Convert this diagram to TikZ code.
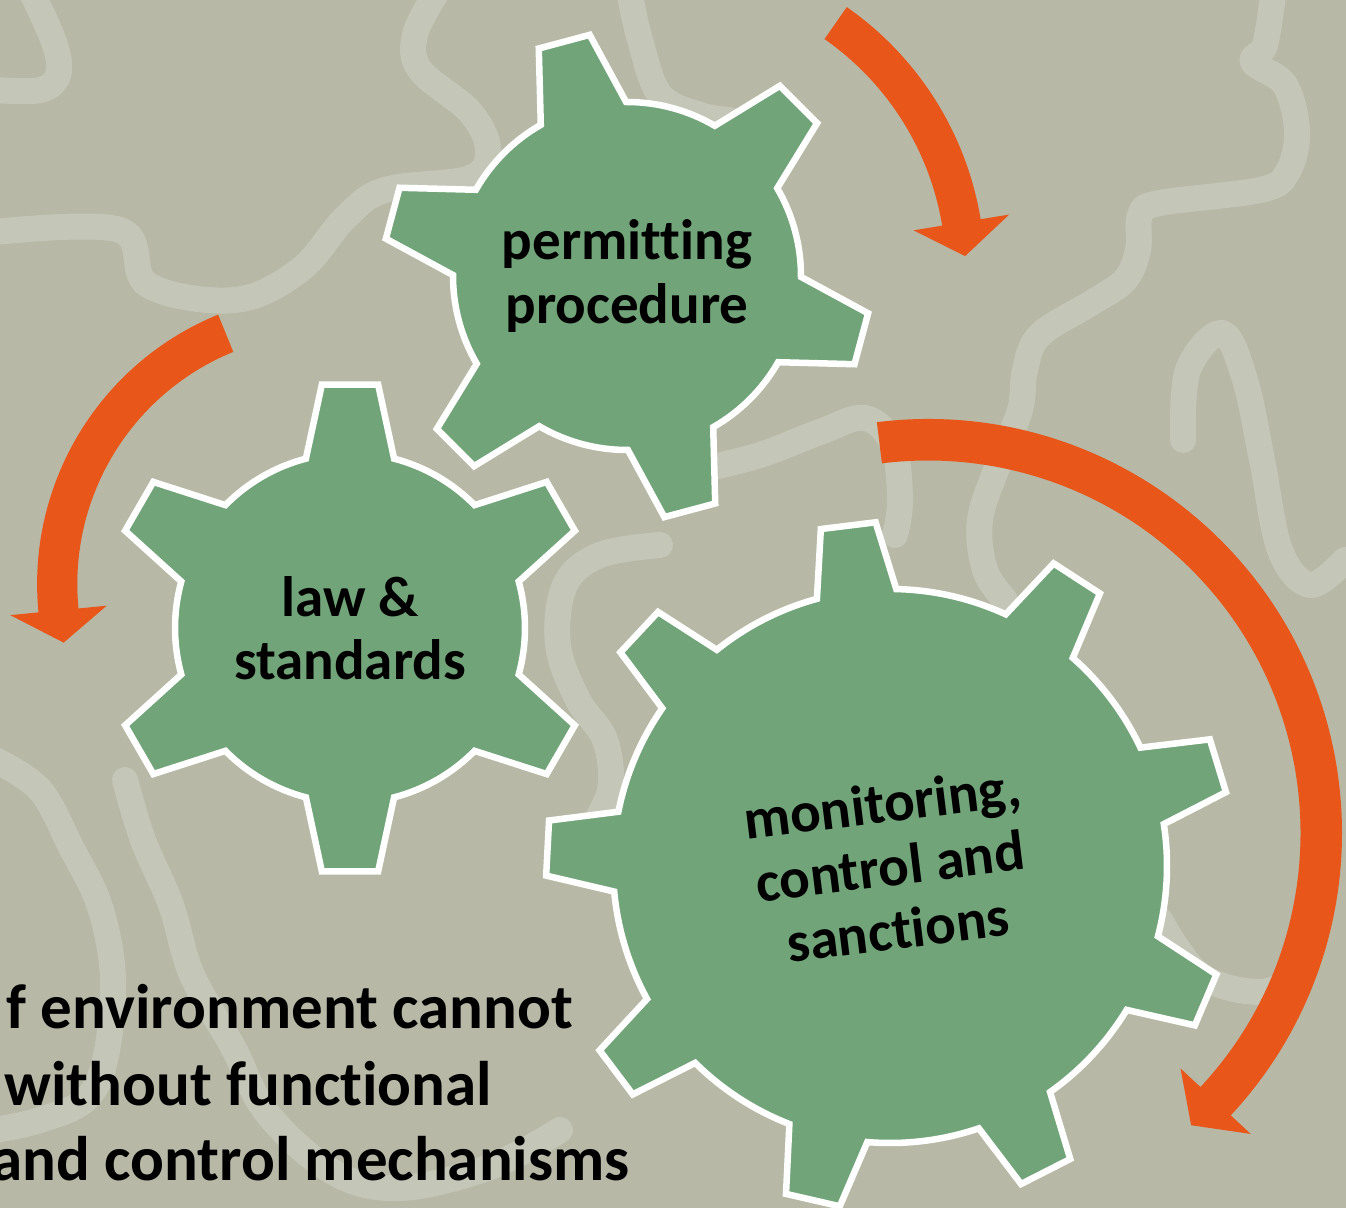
\documentclass[tikz,border=0pt]{standalone}
\usepackage{fontspec}
\setmainfont{Carlito}[Ligatures={NoCommon}]
\definecolor{bgc}{RGB}{183,184,166}
\definecolor{sqc}{RGB}{196,198,183}
\definecolor{gearc}{RGB}{113,164,121}
\definecolor{arrc}{RGB}{232,86,26}
% gear: cx, cy, teeth, phase, Router, Rbase, tip half angle, base half angle
\newcommand{\mygear}[8]{%
  \begin{scope}[shift={(#1,#2)}]
    \pgfmathsetmacro{\gstep}{360/#3}
    \pgfmathtruncatemacro{\gnm}{#3-1}
    \draw[gearshape] ({#4-#8}:#6pt) \foreach \k in {0,...,\gnm} {
      -- ({#4+\k*\gstep-#7}:#5pt) -- ({#4+\k*\gstep+#7}:#5pt) -- ({#4+\k*\gstep+#8}:#6pt)
      arc[start angle={#4+\k*\gstep+#8}, delta angle={\gstep-2*#8}, radius=#6pt]} -- cycle;
  \end{scope}}
% arc arrow: cx, cy, Rin, Rout, start angle, shaft end angle, tip angle, head half width
\newcommand{\myarcarrow}[8]{%
  \begin{scope}[shift={(#1,#2)}]
    \pgfmathsetmacro{\rmid}{(#3+#4)/2}
    \pgfmathsetmacro{\hout}{\rmid+#8}
    \pgfmathsetmacro{\hin}{\rmid-#8}
    \fill[arrowshape] (#5:#4pt) arc[start angle=#5, end angle=#6, radius=#4pt]
      -- (#6:\hout pt) -- (#7:\rmid pt) -- (#6:\hin pt) -- (#6:#3pt)
      arc[start angle=#6, end angle=#5, radius=#3pt] -- cycle;
  \end{scope}}
\begin{document}
\begin{tikzpicture}[x=1pt,y=1pt,
  gearshape/.style={fill=gearc, draw=white, line width=6.5pt, line join=miter},
  arrowshape/.style={fill=arrc},
  squig/.style={draw=sqc, line width=26pt, line cap=round, line join=round},
  geartext/.style={font=\bfseries\fontsize{57}{63.5}\selectfont, align=center, text=black, inner sep=0pt},
  bodytext/.style={font=\bfseries\fontsize{63}{76}\selectfont, anchor=base east, inner sep=0pt, text=black}]
\useasboundingbox (0,0) rectangle (1346,1208);
\clip (0,0) rectangle (1346,1208);
\fill[bgc] (0,0) rectangle (1346,1208);
% background squiggles
\draw[squig] plot[smooth, tension=0.6] coordinates {(-5,1118) (40,1118) (58,1133) (55,1163) (33,1213)};
\draw[squig] plot[smooth, tension=0.6] coordinates {(-5,976) (120,978) (148,923) (235,908) (300,938) (345,990) (385,1018) (470,1030) (488,1058) (470,1096) (420,1138) (415,1173) (435,1213)};
\draw[squig] plot[smooth, tension=0.6] coordinates {(630,1213) (640,1168) (660,1113) (700,1093) (730,1088)};
\draw[squig] plot[smooth, tension=0.6] coordinates {(1273,1213) (1265,1163) (1253,1146) (1285,1123) (1297,1075) (1287,1035) (1260,1018) (1160,1005) (1140,993) (1138,958) (1125,928) (1093,906) (1040,873) (1025,838) (1020,798) (998,743) (980,688) (985,638) (1005,608)};
\draw[squig] plot[smooth, tension=0.6] coordinates {(1183,768) (1188,838) (1222,875) (1245,828) (1262,748) (1280,658) (1310,623) (1345,648)};
\draw[squig] plot[smooth, tension=0.6] coordinates {(-5,448) (40,418) (71,361) (100,301) (113,228) (105,148) (85,108) (40,88) (-5,78)};
\draw[squig] plot[smooth, tension=0.6] coordinates {(125,428) (143,368) (171,303) (192,233) (233,161) (267,95) (333,36) (400,20) (490,41) (560,78)};
\draw[squig] plot[smooth, tension=0.6] coordinates {(660,663) (600,653) (565,623) (558,563) (578,508) (605,468) (610,418) (590,378)};
\draw[squig] plot[smooth, tension=0.6] coordinates {(700,738) (760,753) (820,776) (865,790) (893,763) (900,708) (895,673)};
\draw[squig] plot[smooth, tension=0.6] coordinates {(1160,288) (1200,233) (1260,216) (1300,233)};
% gears
\mygear{627}{932}{6}{105}{244}{174}{6.2}{14.7}
\mygear{350}{580}{6}{90}{245}{175}{6.6}{14.6}
\mygear{890}{342}{9}{97}{344}{277}{4.6}{8.3}
% arrows
\myarcarrow{662}{936}{284}{323}{55.1}{9.4}{3.0}{48.5}
\myarcarrow{328}{624}{250.7}{290.9}{112.2}{185.6}{192.5}{48.5}
\myarcarrow{928}{375}{372.5}{414}{97.1}{-43}{-48}{48}
% texts
\node[geartext] (permit) at (627,932) {permitting\\procedure};
\node[geartext] (law) at (350,580) {law \&\\standards};
\node[geartext, rotate=7] (monit) at (890,342) {monitoring,\\control and\\sanctions};
\node[bodytext] (line1) at (573,180) {f environment cannot};
\node[bodytext] (line2) at (492,103) {without functional};
\node[bodytext] (line3) at (630,28) {and control mechanisms};
\end{tikzpicture}
\end{document}
